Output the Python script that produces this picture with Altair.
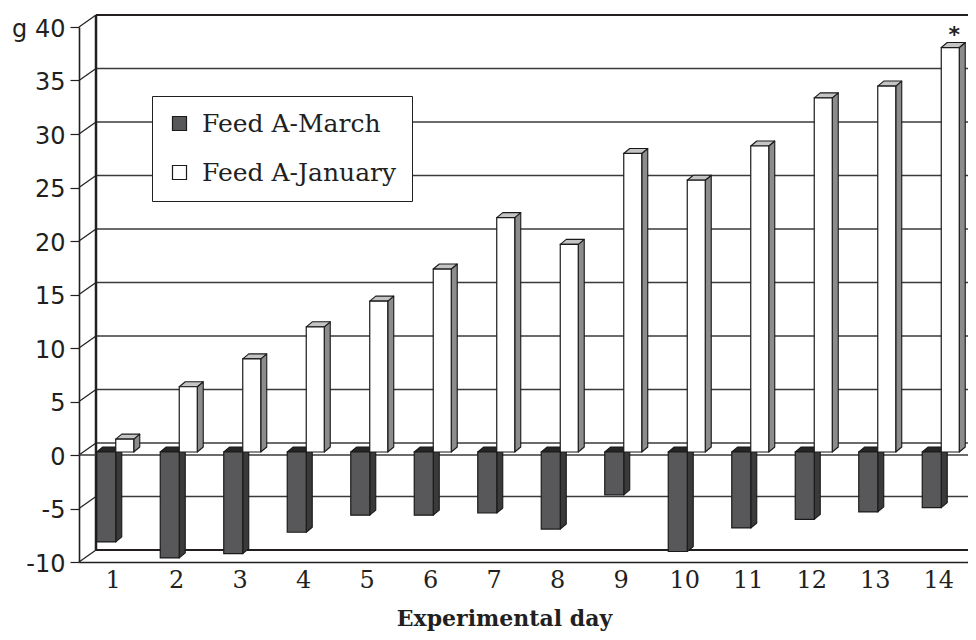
import altair as alt
import pandas as pd

# ---- data ----
days = list(range(1, 15))
series_names = ["Feed A-March", "Feed A-January"]
march = [-8.4, -9.9, -9.5, -7.5, -5.9, -5.9, -5.7, -7.2, -4.0, -9.3, -7.1, -6.3, -5.6, -5.2]
january = [1.2, 6.1, 8.7, 11.7, 14.1, 17.1, 21.9, 19.4, 27.9, 25.4, 28.6, 33.1, 34.2, 37.8]
y_ticks = [-10, -5, 0, 5, 10, 15, 20, 25, 30, 35, 40]
star_day = 14
star_label = "*"

# ---- layout / style ----
W, H = 889, 535
PAD = {"left": 71, "top": 19, "right": 0, "bottom": 70}
UX = W / 14.0          # px per day
UY = H / 50.0          # px per gram
DEPTH_X, DEPTH_Y = 6, 5
WALL_DX, WALL_DY = 17, -12
BAR_SPAN = {"Feed A-March": (-14, 5), "Feed A-January": (5, 23)}
BASE_SHIFT = -3
INK = "#231f20"
EDGE = "#1a1a1a"
FACE = {
    "Feed A-March": {"front": "#58585a", "top": "#262626", "side": "#3a3a3a"},
    "Feed A-January": {"front": "#ffffff", "top": "#c4c4c4", "side": "#8c8c8c"},
}

xs = alt.Scale(domain=[0.5, 14.5], nice=False, zero=False)
ys = alt.Scale(domain=[-10, 40], nice=False, zero=False)

# ---- build bar faces from the values ----
du = DEPTH_X / UX
dv = DEPTH_Y / UY
front, side, top = [], [], []
for s, vals in zip(series_names, [march, january]):
    a, b = BAR_SPAN[s]
    for d, v in zip(days, vals):
        xl, xr = d + a / UX, d + b / UX
        lo, hi = min(0.0, v), max(0.0, v)
        key = f"{s}-{d}"
        front.append({"series": s, "day": d, "xl": xl, "xr": xr, "lo": lo, "hi": hi})
        side.append({"series": s, "bar": key, "px": xr, "py": hi, "py2": lo})
        side.append({"series": s, "bar": key, "px": xr + du, "py": hi + dv, "py2": lo + dv})
        for x_, y_, y2_ in [(xl, hi, hi), (xl + du, hi + dv, hi),
                            (xr, hi + dv, hi), (xr + du, hi + dv, hi + dv)]:
            top.append({"series": s, "bar": key, "px": x_, "py": y_, "py2": y2_})
front_df = pd.DataFrame(front)
side_df = pd.DataFrame(side)
top_df = pd.DataFrame(top)
ticks_df = pd.DataFrame({"v": y_ticks})
inner_df = pd.DataFrame({"v": [t for t in y_ticks if t not in (-10, 40)]})
star_df = pd.DataFrame({"day": [star_day], "value": [january[days.index(star_day)]], "label": [star_label]})
one = alt.Data(values=[{}])

axx = alt.Axis(values=days, format="d", labelFont="DejaVu Serif", labelFontSize=24,
               labelColor=INK, ticks=False, labelPadding=6, labelOffset=2, grid=False,
               domainColor=INK, domainWidth=1.6, labelFlush=False,
               title="Experimental day", titleFont="DejaVu Serif", titleFontWeight="bold",
               titleFontSize=22, titleColor=INK, titleX=425, titleY=63,
               titleBaseline="alphabetic", titleAlign="center")
axy = alt.Axis(values=y_ticks, labelExpr="datum.value == 40 ? 'g 40' : '' + datum.value",
               labelFont="DejaVu Sans", labelFontSize=24, labelColor=INK, tickSize=9,
               tickColor=INK, tickWidth=1.2, labelPadding=5, labelOffset=2, grid=False,
               domainColor=INK, domainWidth=1.6, title=None)


def X(field):
    return alt.X(field, scale=xs, axis=axx, title="Experimental day")


def Y(field, **kw):
    return alt.Y(field, scale=ys, axis=axy, title=None, **kw)


def XD(v):
    return alt.XDatum(v, scale=xs, axis=axx, title="Experimental day")


def YD(v):
    return alt.YDatum(v, scale=ys, axis=axy, title=None)


# back-wall gridlines
grid = alt.Chart(inner_df).mark_rule(color="#3a3a3a", strokeWidth=1.3, xOffset=WALL_DX,
                                     x2Offset=WALL_DX, yOffset=WALL_DY).encode(
    x=XD(0.5), x2=alt.X2Datum(14.5), y=Y("v:Q"))
wall_edges = alt.Chart(pd.DataFrame({"v": [-10, 40]})).mark_rule(
    color=INK, strokeWidth=2.2, xOffset=WALL_DX, x2Offset=WALL_DX, yOffset=WALL_DY).encode(
    x=XD(0.5), x2=alt.X2Datum(14.5), y=Y("v:Q"))
wall_left = alt.Chart(one).mark_rule(color=INK, strokeWidth=2.5, xOffset=WALL_DX,
                                     yOffset=WALL_DY, y2Offset=WALL_DY).encode(
    x=XD(0.5), y=YD(-10), y2=alt.Y2Datum(40))
diag = alt.Chart(ticks_df).mark_rule(color=INK, strokeWidth=1.2, x2Offset=WALL_DX,
                                     y2Offset=WALL_DY).encode(
    x=XD(0.5), x2=alt.X2Datum(0.5), y=Y("v:Q"), y2="v:Q")
diag_right = alt.Chart(one).mark_rule(color=INK, strokeWidth=1.4, x2Offset=WALL_DX,
                                      y2Offset=WALL_DY).encode(
    x=XD(14.5), x2=alt.X2Datum(14.5), y=YD(-10), y2=alt.Y2Datum(-10))
zero_line = alt.Chart(one).mark_rule(color="#3a3a3a", strokeWidth=1.3, x2Offset=WALL_DX).encode(
    x=XD(0.5), x2=alt.X2Datum(14.5), y=YD(0))


def face_layer(df, series, part):
    return alt.Chart(df[df.series == series]).mark_area(
        orient="vertical", interpolate="linear", fill=FACE[series][part], stroke=EDGE,
        strokeWidth=1.1, strokeJoin="round", yOffset=BASE_SHIFT, y2Offset=BASE_SHIFT).encode(
        x=X("px:Q"), y=Y("py:Q", stack=None), y2="py2:Q", detail="bar:N")


fronts = alt.Chart(front_df).mark_rect(stroke=EDGE, strokeWidth=1.2, yOffset=BASE_SHIFT,
                                       y2Offset=BASE_SHIFT).encode(
    x=X("xl:Q"),
    x2="xr:Q",
    y=Y("lo:Q"),
    y2="hi:Q",
    color=alt.Color("series:N", scale=alt.Scale(domain=series_names,
                                                range=[FACE[s]["front"] for s in series_names]),
                    sort=series_names,
                    legend=alt.Legend(orient="none", legendX=73, legendY=69, title=None,
                                      labelFont="DejaVu Serif", labelFontSize=25,
                                      labelColor=INK, labelOffset=10, rowPadding=23,
                                      padding=15, symbolType="square", symbolSize=196,
                                      labelLimit=0,
                                      symbolStrokeColor=EDGE, symbolStrokeWidth=1.2,
                                      fillColor="white", strokeColor=INK)),
)

star = alt.Chart(star_df).mark_text(fontSize=22, fontWeight="bold", font="DejaVu Sans",
                                    color=INK, xOffset=18, yOffset=-9,
                                    baseline="alphabetic").encode(
    x=X("day:Q"), y=Y("value:Q"), text="label:N")

layers = [grid, wall_edges, wall_left, diag, diag_right, zero_line]
for s in series_names:
    layers.append(face_layer(side_df, s, "side"))
    layers.append(face_layer(top_df, s, "top"))
layers += [fronts, star]

chart = alt.layer(*layers).properties(
    width=W, height=H, autosize=alt.AutoSizeParams(type="none"), padding=PAD,
    background="white",
).configure_view(stroke=None)

chart.save("out.html", embed_options={"renderer": "svg", "actions": False})
